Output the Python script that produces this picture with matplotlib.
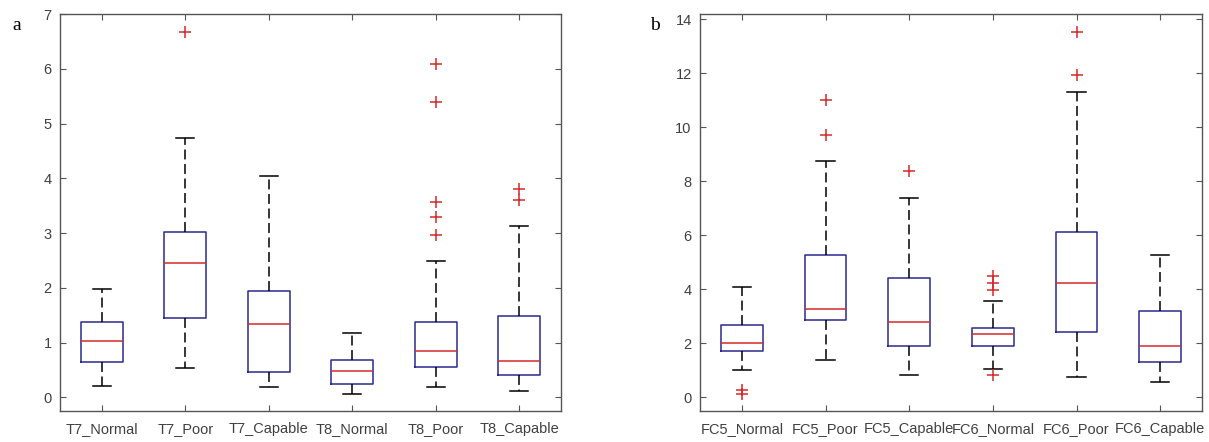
import matplotlib.pyplot as plt

plt.rcParams['font.family'] = ['Liberation Sans', 'DejaVu Sans']

# panel a
labels_a = ['T7_Normal', 'T7_Poor', 'T7_Capable', 'T8_Normal', 'T8_Poor', 'T8_Capable']
whislo_a = [0.21, 0.53, 0.18, 0.06, 0.18, 0.12]
q1_a = [0.64, 1.45, 0.47, 0.25, 0.55, 0.40]
med_a = [1.02, 2.46, 1.34, 0.48, 0.85, 0.66]
q3_a = [1.37, 3.02, 1.95, 0.68, 1.38, 1.49]
whishi_a = [1.98, 4.74, 4.04, 1.18, 2.49, 3.12]
fliers_a = [[], [6.68], [], [], [6.09, 5.39, 3.57, 3.30, 2.97], [3.80, 3.61]]

# panel b
labels_b = ['FC5_Normal', 'FC5_Poor', 'FC5_Capable', 'FC6_Normal', 'FC6_Poor', 'FC6_Capable']
whislo_b = [1.03, 1.38, 0.82, 1.06, 0.77, 0.57]
q1_b = [1.72, 2.87, 1.89, 1.90, 2.41, 1.33]
med_b = [2.03, 3.27, 2.79, 2.34, 4.23, 1.90]
q3_b = [2.67, 5.29, 4.44, 2.58, 6.12, 3.21]
whishi_b = [4.09, 8.74, 7.40, 3.57, 11.33, 5.29]
fliers_b = [[0.28, 0.12], [11.03, 9.72], [8.39], [4.51, 4.23, 3.98, 0.84], [13.55, 11.94], []]

box_c = '#2a2a90'
med_c = '#d42a2a'
txt_c = '#404040'
axis_c = '#555555'


def draw(ax, labels, lo, q1, med, q3, hi, fl, ylim, yticks):
    stats = []
    for i in range(len(labels)):
        stats.append(dict(label=labels[i], whislo=lo[i], q1=q1[i], med=med[i],
                          q3=q3[i], whishi=hi[i], fliers=fl[i]))
    ax.bxp(stats, widths=0.5, capwidths=0.22,
           boxprops=dict(color=box_c, lw=1.1),
           medianprops=dict(color=med_c, lw=1.1),
           whiskerprops=dict(color='black', lw=1.1, linestyle=(0, (6.5, 3))),
           capprops=dict(color='black', lw=1.1),
           flierprops=dict(marker='+', markeredgecolor=med_c, markersize=8, markeredgewidth=1.1))
    ax.set_xlim(0.5, len(labels) + 0.5)
    ax.set_ylim(*ylim)
    ax.set_yticks(yticks)
    ax.tick_params(direction='in', top=True, right=True, length=4, color=axis_c,
                   labelcolor=txt_c, labelsize=10.5, pad=6)
    ax.tick_params(axis='x', pad=8)
    for s in ax.spines.values():
        s.set_color(axis_c)
        s.set_linewidth(1.0)


fig = plt.figure(figsize=(12.09, 4.42), dpi=100)
ax1 = fig.add_axes([60 / 1209, 1 - 411 / 442, 501 / 1209, 397 / 442])
ax2 = fig.add_axes([700 / 1209, 1 - 411 / 442, 502 / 1209, 397 / 442])

draw(ax1, labels_a, whislo_a, q1_a, med_a, q3_a, whishi_a, fliers_a, (-0.25, 7), range(0, 8))
draw(ax2, labels_b, whislo_b, q1_b, med_b, q3_b, whishi_b, fliers_b, (-0.5, 14.2), range(0, 15, 2))

fig.text(12 / 1209, 1 - 26 / 442, 'a', family='Liberation Serif', fontsize=14, va='center')
fig.text(650 / 1209, 1 - 26 / 442, 'b', family='Liberation Serif', fontsize=14, va='center')

fig.savefig('out.png', dpi=100)
